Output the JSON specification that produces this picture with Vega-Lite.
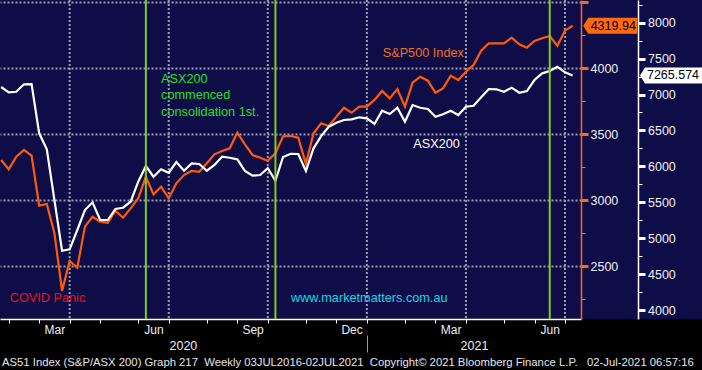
{
  "$schema": "https://vega.github.io/schema/vega-lite/v6.json",
  "width": 581,
  "height": 319,
  "autosize": {"type": "none"},
  "padding": {"left": 0, "top": 0, "right": 121, "bottom": 51},
  "background": "#000000",
  "config": {
    "view": {"stroke": null, "fill": "#0f0d48"},
    "axis": {"labelFont": "Liberation Sans", "titleFont": "Liberation Sans"},
    "text": {"font": "Liberation Sans"}
  },
  "title": {
    "text": "AS51 Index (S&P/ASX 200) Graph 217\u00a0\u00a0Weekly 03JUL2016-02JUL2021\u00a0\u00a0Copyright\u00a9 2021 Bloomberg Finance L.P.\u00a0\u00a0\u00a002-Jul-2021 06:57:16",
    "orient": "bottom",
    "anchor": "start",
    "frame": "group",
    "font": "Liberation Sans",
    "fontSize": 11.3,
    "fontWeight": "normal",
    "color": "#e4e4ec",
    "offset": 4,
    "dx": 2
  },
  "datasets": {
    "w": [
      {"date": "2020-01-24", "sp": 3303, "asx": 7105},
      {"date": "2020-01-31", "sp": 3233, "asx": 7031},
      {"date": "2020-02-07", "sp": 3328, "asx": 7039},
      {"date": "2020-02-14", "sp": 3379, "asx": 7142},
      {"date": "2020-02-21", "sp": 3336, "asx": 7146},
      {"date": "2020-02-28", "sp": 2957, "asx": 6460},
      {"date": "2020-03-06", "sp": 2970, "asx": 6237},
      {"date": "2020-03-13", "sp": 2748, "asx": 5531},
      {"date": "2020-03-20", "sp": 2311, "asx": 4825},
      {"date": "2020-03-27", "sp": 2538, "asx": 4845},
      {"date": "2020-04-03", "sp": 2487, "asx": 5114},
      {"date": "2020-04-10", "sp": 2798, "asx": 5392},
      {"date": "2020-04-17", "sp": 2873, "asx": 5499},
      {"date": "2020-04-24", "sp": 2836, "asx": 5253},
      {"date": "2020-05-01", "sp": 2828, "asx": 5253},
      {"date": "2020-05-08", "sp": 2919, "asx": 5406},
      {"date": "2020-05-15", "sp": 2866, "asx": 5424},
      {"date": "2020-05-22", "sp": 2937, "asx": 5508},
      {"date": "2020-05-29", "sp": 3013, "asx": 5786},
      {"date": "2020-06-05", "sp": 3176, "asx": 6005},
      {"date": "2020-06-12", "sp": 3043, "asx": 5856},
      {"date": "2020-06-19", "sp": 3101, "asx": 5959},
      {"date": "2020-06-26", "sp": 3013, "asx": 5911},
      {"date": "2020-07-03", "sp": 3126, "asx": 6060},
      {"date": "2020-07-10", "sp": 3189, "asx": 5939},
      {"date": "2020-07-17", "sp": 3220, "asx": 6042},
      {"date": "2020-07-24", "sp": 3214, "asx": 6033},
      {"date": "2020-07-31", "sp": 3278, "asx": 5939},
      {"date": "2020-08-07", "sp": 3346, "asx": 6019},
      {"date": "2020-08-14", "sp": 3371, "asx": 6134},
      {"date": "2020-08-21", "sp": 3392, "asx": 6120},
      {"date": "2020-08-28", "sp": 3510, "asx": 6098},
      {"date": "2020-09-04", "sp": 3422, "asx": 5935},
      {"date": "2020-09-11", "sp": 3341, "asx": 5870},
      {"date": "2020-09-18", "sp": 3320, "asx": 5879},
      {"date": "2020-09-25", "sp": 3298, "asx": 5973},
      {"date": "2020-10-02", "sp": 3354, "asx": 5800},
      {"date": "2020-10-09", "sp": 3483, "asx": 6130},
      {"date": "2020-10-16", "sp": 3485, "asx": 6175},
      {"date": "2020-10-23", "sp": 3472, "asx": 6172},
      {"date": "2020-10-30", "sp": 3273, "asx": 5935},
      {"date": "2020-11-06", "sp": 3505, "asx": 6251},
      {"date": "2020-11-13", "sp": 3581, "asx": 6422},
      {"date": "2020-11-20", "sp": 3561, "asx": 6552},
      {"date": "2020-11-27", "sp": 3631, "asx": 6608},
      {"date": "2020-12-04", "sp": 3699, "asx": 6645},
      {"date": "2020-12-11", "sp": 3661, "asx": 6655},
      {"date": "2020-12-18", "sp": 3707, "asx": 6683},
      {"date": "2020-12-25", "sp": 3707, "asx": 6669},
      {"date": "2021-01-01", "sp": 3758, "asx": 6590},
      {"date": "2021-01-08", "sp": 3826, "asx": 6775},
      {"date": "2021-01-15", "sp": 3770, "asx": 6729},
      {"date": "2021-01-22", "sp": 3841, "asx": 6816},
      {"date": "2021-01-29", "sp": 3707, "asx": 6622},
      {"date": "2021-02-05", "sp": 3889, "asx": 6854},
      {"date": "2021-02-12", "sp": 3934, "asx": 6816},
      {"date": "2021-02-19", "sp": 3904, "asx": 6798},
      {"date": "2021-02-26", "sp": 3813, "asx": 6691},
      {"date": "2021-03-05", "sp": 3846, "asx": 6725},
      {"date": "2021-03-12", "sp": 3942, "asx": 6775},
      {"date": "2021-03-19", "sp": 3909, "asx": 6715},
      {"date": "2021-03-26", "sp": 3972, "asx": 6830},
      {"date": "2021-04-02", "sp": 4023, "asx": 6844},
      {"date": "2021-04-09", "sp": 4131, "asx": 6961},
      {"date": "2021-04-16", "sp": 4187, "asx": 7077},
      {"date": "2021-04-23", "sp": 4187, "asx": 7073},
      {"date": "2021-04-30", "sp": 4187, "asx": 7039},
      {"date": "2021-05-07", "sp": 4230, "asx": 7095},
      {"date": "2021-05-14", "sp": 4180, "asx": 7025},
      {"date": "2021-05-21", "sp": 4154, "asx": 7049},
      {"date": "2021-05-28", "sp": 4205, "asx": 7202},
      {"date": "2021-06-04", "sp": 4225, "asx": 7295},
      {"date": "2021-06-11", "sp": 4242, "asx": 7327},
      {"date": "2021-06-18", "sp": 4169, "asx": 7387},
      {"date": "2021-06-25", "sp": 4283, "asx": 7309},
      {"date": "2021-07-02", "sp": 4319.94, "asx": 7265.574}
    ]
  },
  "resolve": {"scale": {"y": "independent"}, "axis": {"x": "independent", "y": "independent"}},
  "layer": [
    {
      "data": {"values": [{}]},
      "mark": {"type": "rect", "color": "#0f0d48"},
      "encoding": {
        "x": {
          "datum": {"year": 2021, "month": 7, "date": 9, "hours": 17, "utc": true},
          "type": "temporal",
          "scale": {"type": "utc", "domain": [{"year": 2020, "month": 1, "date": 23, "utc": true}, {"year": 2021, "month": 7, "date": 9, "hours": 17, "utc": true}]},
          "axis": {
            "orient": "bottom", "title": null, "labels": false, "grid": false,
            "ticks": true, "tickColor": "#ffffff", "tickSize": 4, "tickWidth": 1,
            "domain": true, "domainColor": "#ffffff", "domainWidth": 1.5,
            "values": [
              {"year": 2020, "month": 1, "date": 31, "utc": true},
              {"year": 2020, "month": 2, "date": 28, "utc": true},
              {"year": 2020, "month": 3, "date": 27, "utc": true},
              {"year": 2020, "month": 4, "date": 24, "utc": true},
              {"year": 2020, "month": 5, "date": 29, "utc": true},
              {"year": 2020, "month": 6, "date": 26, "utc": true},
              {"year": 2020, "month": 7, "date": 31, "utc": true},
              {"year": 2020, "month": 8, "date": 28, "utc": true},
              {"year": 2020, "month": 9, "date": 25, "utc": true},
              {"year": 2020, "month": 10, "date": 30, "utc": true},
              {"year": 2020, "month": 11, "date": 27, "utc": true},
              {"year": 2020, "month": 12, "date": 25, "utc": true},
              {"year": 2021, "month": 1, "date": 29, "utc": true},
              {"year": 2021, "month": 2, "date": 26, "utc": true},
              {"year": 2021, "month": 3, "date": 26, "utc": true},
              {"year": 2021, "month": 4, "date": 30, "utc": true},
              {"year": 2021, "month": 5, "date": 28, "utc": true},
              {"year": 2021, "month": 6, "date": 25, "utc": true}
            ]
          }
        },
        "x2": {"datum": {"year": 2022, "month": 3, "date": 1, "utc": true}}
      }
    },
    {
      "data": {"values": [{"q": "2020-03-27"}, {"q": "2020-06-26"}, {"q": "2020-09-25"}, {"q": "2020-12-25"}, {"q": "2021-03-26"}, {"q": "2021-06-25"}]},
      "mark": {"type": "rule", "color": "#9c9cae", "strokeWidth": 2, "strokeDash": [2, 2]},
      "encoding": {
        "x": {
          "field": "q", "type": "temporal",
          "scale": {"type": "utc", "domain": [{"year": 2020, "month": 1, "date": 23, "utc": true}, {"year": 2021, "month": 7, "date": 9, "hours": 17, "utc": true}]},
          "axis": {
            "orient": "bottom", "title": null, "ticks": false, "tickSize": 0, "domain": false, "grid": false,
            "labelExpr": "utcFormat(datum.value, '%b')",
            "labelPadding": 5, "labelFontSize": 12, "labelColor": "#eeeef4",
            "labelOverlap": false, "labelFlush": false, "labelBound": false,
            "values": [
              {"year": 2020, "month": 3, "date": 13, "utc": true},
              {"year": 2020, "month": 6, "date": 12, "utc": true},
              {"year": 2020, "month": 9, "date": 11, "utc": true},
              {"year": 2020, "month": 12, "date": 11, "utc": true},
              {"year": 2021, "month": 3, "date": 12, "utc": true},
              {"year": 2021, "month": 6, "date": 11, "utc": true}
            ]
          }
        }
      }
    },
    {
      "data": {"name": "w"},
      "mark": {"type": "line", "color": "#ff5a0a", "strokeWidth": 2.2},
      "encoding": {
        "x": {
          "field": "date", "type": "temporal",
          "scale": {"type": "utc", "domain": [{"year": 2020, "month": 1, "date": 23, "utc": true}, {"year": 2021, "month": 7, "date": 9, "hours": 17, "utc": true}]},
          "axis": {
            "orient": "bottom", "title": null, "labels": false, "grid": false, "domain": false,
            "ticks": true, "tickColor": "#9a9aa0", "tickSize": 17, "tickWidth": 1, "offset": 16,
            "values": [{"year": 2020, "month": 12, "date": 25, "utc": true}]
          }
        },
        "y": {
          "field": "sp", "type": "quantitative",
          "scale": {"domain": [2098.5, 4515.2], "nice": false, "zero": false},
          "axis": {
            "orient": "right", "title": null, "values": [2500, 3000, 3500, 4000, 4500],
            "labelExpr": "datum.value >= 4500 ? '' : format(datum.value, 'd')",
            "grid": false, "domain": true, "domainColor": "#ff6a10", "domainWidth": 1.5,
            "ticks": true, "tickColor": "#ff6a10", "tickSize": 7, "tickWidth": 3,
            "labelPadding": 2, "labelFontSize": 12.5, "labelColor": "#eeeef4",
            "labelOverlap": false, "labelBound": false, "labelFlush": false, "zindex": 1
          }
        }
      }
    },
    {
      "data": {"name": "w"},
      "mark": {"type": "line", "color": "#ffffff", "strokeWidth": 2.2},
      "encoding": {
        "x": {
          "field": "date", "type": "temporal",
          "scale": {"type": "utc", "domain": [{"year": 2020, "month": 1, "date": 23, "utc": true}, {"year": 2021, "month": 7, "date": 9, "hours": 17, "utc": true}]},
          "axis": null
        },
        "y": {
          "field": "asx", "type": "quantitative",
          "scale": {"domain": [3875, 8316], "nice": false, "zero": false},
          "axis": {
            "orient": "right", "offset": 57, "title": null,
            "values": [4000, 4500, 5000, 5500, 6000, 6500, 7000, 7500, 8000], "format": "d",
            "grid": false, "domain": true, "domainColor": "#ffffff", "domainWidth": 1.5,
            "ticks": true, "tickColor": "#ffffff", "tickSize": 7, "tickWidth": 3,
            "labelPadding": 2.5, "labelFontSize": 12.5, "labelColor": "#eeeef4",
            "labelOverlap": false, "labelBound": false, "labelFlush": false, "zindex": 1
          }
        }
      }
    },
    {
      "data": {"values": [{"g": "2020-06-05"}, {"g": "2020-10-02"}, {"g": "2021-06-11"}]},
      "mark": {"type": "rule", "color": "#80cc1a", "strokeWidth": 2},
      "encoding": {
        "x": {
          "field": "g", "type": "temporal",
          "scale": {"type": "utc", "domain": [{"year": 2020, "month": 1, "date": 23, "utc": true}, {"year": 2021, "month": 7, "date": 9, "hours": 17, "utc": true}]},
          "axis": {
            "orient": "bottom", "title": null, "ticks": false, "tickSize": 0, "domain": false, "grid": false,
            "labelExpr": "utcFormat(datum.value, '%Y')",
            "labelPadding": 20, "labelFontSize": 12.5, "labelColor": "#eeeef4",
            "labelOverlap": false, "labelFlush": false, "labelBound": false,
            "values": [
              {"year": 2020, "month": 7, "date": 9, "utc": true},
              {"year": 2021, "month": 4, "date": 2, "hours": 10, "utc": true}
            ]
          }
        }
      }
    },
    {
      "data": {"values": [
        {"label": "ASX200\ncommenced\nconsolidation 1st.", "date": "2020-06-19", "level": 3917},
        {"label": "S&P500 Index", "date": "2021-01-08T14:00:00Z", "level": 4114},
        {"label": "ASX200", "date": "2021-02-05T17:00:00Z", "level": 3424},
        {"label": "COVID Panic", "date": "2020-02-01", "level": 2255},
        {"label": "www.marketmatters.com.au", "date": "2020-10-16T07:00:00Z", "level": 2255}
      ]},
      "mark": {"type": "text", "align": "left", "baseline": "middle", "fontSize": 12.7, "lineBreak": "\n", "lineHeight": 16.5},
      "encoding": {
        "x": {
          "field": "date", "type": "temporal",
          "scale": {"type": "utc", "domain": [{"year": 2020, "month": 1, "date": 23, "utc": true}, {"year": 2021, "month": 7, "date": 9, "hours": 17, "utc": true}]},
          "axis": null
        },
        "y": {
          "field": "level", "type": "quantitative",
          "scale": {"domain": [2098.5, 4515.2], "nice": false, "zero": false},
          "axis": {
            "orient": "right", "title": null, "values": [2500, 3000, 3500, 4000, 4500],
            "labels": false, "ticks": false, "domain": false,
            "grid": true, "gridColor": "#9c9cae", "gridDash": [2, 2], "gridWidth": 2, "zindex": 0
          }
        },
        "text": {"field": "label", "type": "nominal"},
        "color": {
          "field": "label", "type": "nominal", "legend": null,
          "scale": {
            "domain": ["ASX200\ncommenced\nconsolidation 1st.", "S&P500 Index", "ASX200", "COVID Panic", "www.marketmatters.com.au"],
            "range": ["#22e022", "#f0701e", "#ffffff", "#e8101c", "#12d8e6"]
          }
        }
      }
    },
    {
      "data": {"name": "w"},
      "transform": [{"filter": "utcyear(datum.date) == 2021 && utcmonth(datum.date) == 6"}],
      "encoding": {
        "x": {
          "datum": {"year": 2021, "month": 8, "date": 5, "hours": 14, "utc": true},
          "type": "temporal",
          "scale": {"type": "utc", "domain": [{"year": 2020, "month": 1, "date": 23, "utc": true}, {"year": 2021, "month": 7, "date": 9, "hours": 17, "utc": true}]},
          "axis": null
        },
        "y": {
          "field": "sp", "type": "quantitative",
          "scale": {"domain": [2098.5, 4515.2], "nice": false, "zero": false},
          "axis": {
            "orient": "right", "title": null, "values": [2250, 2750, 3250, 3750, 4250],
            "labels": false, "grid": false, "domain": false,
            "ticks": true, "tickColor": "#ff6a10", "tickSize": 4, "tickWidth": 1, "zindex": 1
          }
        }
      },
      "layer": [
        {"mark": {"type": "point", "shape": "M-1,0L-0.815,-0.296L1,-0.296L1,0.296L-0.815,0.296Z", "size": 2916, "filled": true, "color": "#ff6a10", "opacity": 1, "strokeWidth": 0}},
        {"mark": {"type": "text", "color": "#000000", "fontSize": 12.5, "align": "center", "baseline": "middle", "dx": 3},
         "encoding": {"text": {"field": "sp", "type": "quantitative", "format": ".2f"}}}
      ]
    },
    {
      "data": {"name": "w"},
      "transform": [{"filter": "utcyear(datum.date) == 2021 && utcmonth(datum.date) == 6"}],
      "encoding": {
        "x": {
          "datum": {"year": 2021, "month": 10, "date": 1, "hours": 7, "utc": true},
          "type": "temporal",
          "scale": {"type": "utc", "domain": [{"year": 2020, "month": 1, "date": 23, "utc": true}, {"year": 2021, "month": 7, "date": 9, "hours": 17, "utc": true}]},
          "axis": null
        },
        "y": {
          "field": "asx", "type": "quantitative",
          "scale": {"domain": [3875, 8316], "nice": false, "zero": false},
          "axis": {
            "orient": "right", "offset": 57, "title": null,
            "values": [4250, 4750, 5250, 5750, 6250, 6750, 7250, 7750, 8250],
            "labels": false, "grid": false, "domain": false,
            "ticks": true, "tickColor": "#ffffff", "tickSize": 4, "tickWidth": 1, "zindex": 1
          }
        }
      },
      "layer": [
        {"mark": {"type": "point", "shape": "M-1,0L-0.844,-0.25L1,-0.25L1,0.25L-0.844,0.25Z", "size": 4096, "filled": true, "color": "#ffffff", "opacity": 1, "strokeWidth": 0}},
        {"mark": {"type": "text", "color": "#000000", "fontSize": 12.5, "align": "center", "baseline": "middle", "dx": 1},
         "encoding": {"text": {"field": "asx", "type": "quantitative", "format": ".3f"}}}
      ]
    }
  ]
}
